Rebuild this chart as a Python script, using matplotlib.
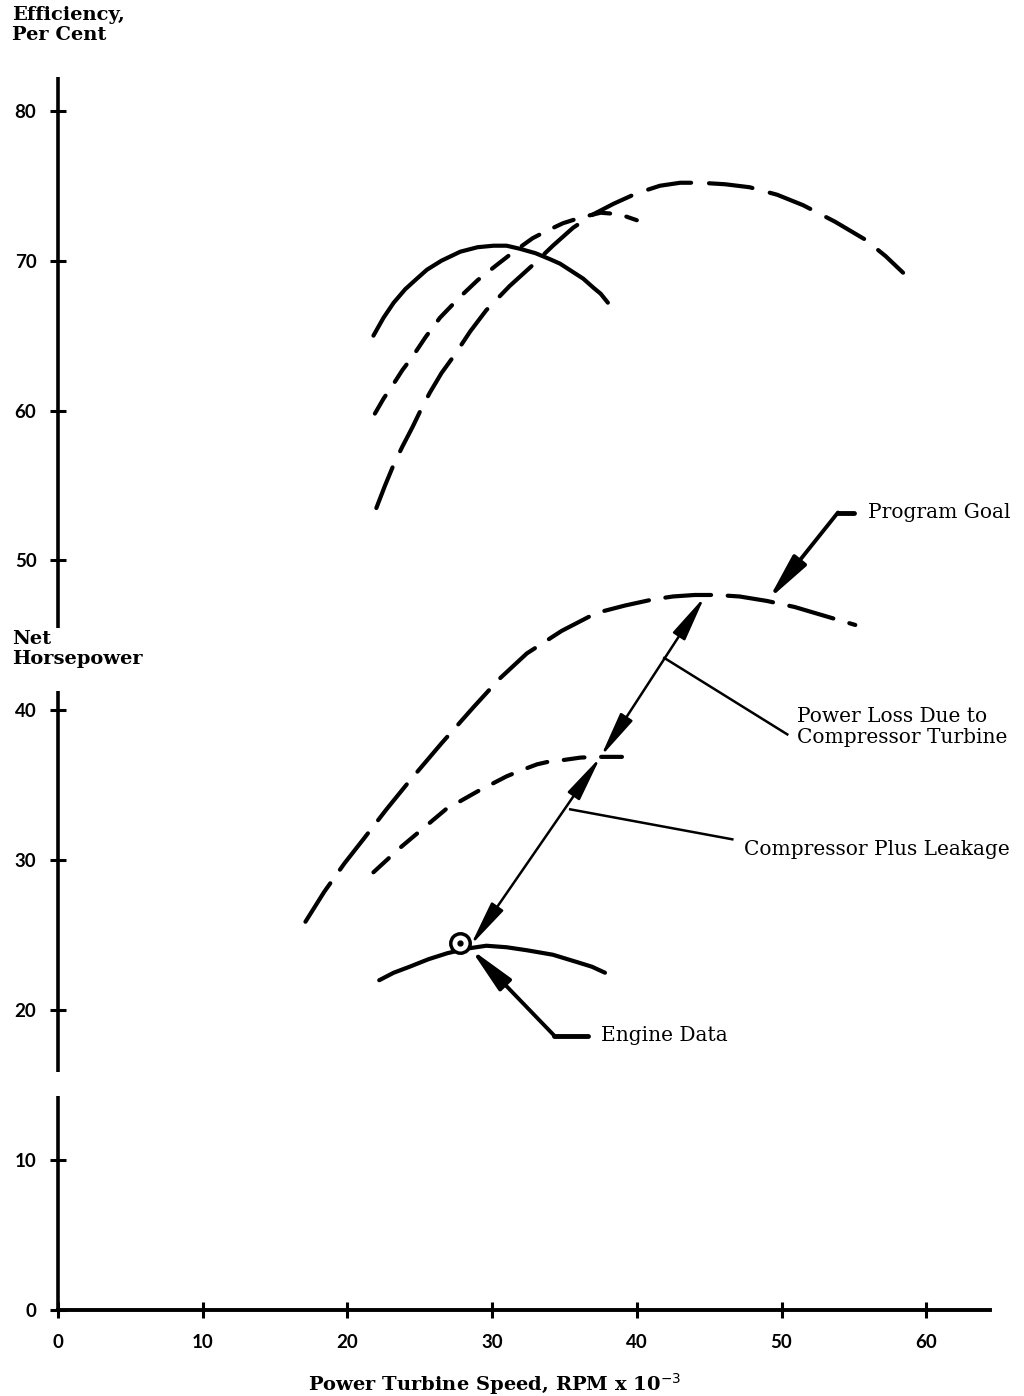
import matplotlib
matplotlib.use("Agg")
from matplotlib import pyplot as plt

# efficiency, per cent (upper family of curves)
eff_solid_x = [21.8, 22.5, 23.2, 24.0, 24.8, 25.5, 26.5, 27.8, 29.0, 30.1,
               31.0, 31.9, 33.0, 34.0, 34.7, 35.5, 36.3, 37.0, 37.5, 38.0]
eff_solid_y = [65.0, 66.2, 67.2, 68.1, 68.8, 69.4, 70.0, 70.6, 70.9, 71.0,
               71.0, 70.8, 70.5, 70.1, 69.8, 69.3, 68.8, 68.2, 67.8, 67.2]

eff_short_x = [21.9, 22.5, 23.2, 23.8, 24.5, 25.4, 26.4, 27.1, 27.8, 29.0,
               30.3, 31.5, 32.8, 33.8, 34.9, 36.2, 37.5, 38.8, 40.0]
eff_short_y = [59.8, 60.8, 61.8, 62.7, 63.6, 64.9, 66.2, 66.9, 67.6, 68.7,
               69.7, 70.6, 71.5, 72.0, 72.5, 72.9, 73.2, 73.1, 72.7]

eff_long_x = [22.0, 22.6, 23.2, 23.8, 24.5, 25.1, 25.7, 26.5, 27.4, 28.5,
              29.6, 31.2, 32.8, 34.2, 35.6, 37.0, 38.4, 40.0, 41.6, 43.0,
              44.4, 46.1, 47.8, 49.7, 51.5, 53.7, 55.8, 57.2, 58.4]
eff_long_y = [53.5, 55.0, 56.4, 57.6, 58.9, 60.1, 61.2, 62.5, 63.7, 65.3,
              66.7, 68.3, 69.7, 71.0, 72.2, 73.1, 73.8, 74.5, 75.0, 75.2,
              75.2, 75.1, 74.9, 74.4, 73.7, 72.6, 71.4, 70.3, 69.2]

# net horsepower (lower family)
goal_x = [17.1, 18.4, 19.8, 21.1, 22.7, 24.3, 26.5, 28.7, 30.5, 32.4, 34.8,
          37.2, 39.2, 41.1, 42.5, 44.0, 45.5, 47.1, 49.0, 50.9, 53.0, 55.1]
goal_y = [25.9, 27.9, 29.8, 31.4, 33.4, 35.3, 37.8, 40.2, 42.1, 43.8, 45.3,
          46.5, 47.0, 47.4, 47.6, 47.7, 47.7, 47.6, 47.3, 46.9, 46.3, 45.7]

leak_x = [21.8, 22.7, 23.6, 25.2, 26.8, 27.9, 29.0, 30.0, 31.0, 32.0,
          33.1, 34.0, 35.0, 36.1, 37.2, 39.0]
leak_y = [29.2, 30.0, 30.8, 32.1, 33.4, 34.0, 34.6, 35.1, 35.6, 36.0,
          36.4, 36.6, 36.7, 36.85, 36.9, 36.9]

engine_x = [22.2, 23.2, 24.3, 25.6, 26.9, 28.2, 29.6, 31.0, 32.4, 34.2, 35.9, 36.9, 37.8]
engine_y = [22.0, 22.5, 22.9, 23.4, 23.8, 24.1, 24.3, 24.2, 24.0, 23.7, 23.2, 22.9, 22.5]

engine_point = (27.8, 24.5)

x_ticks = [0, 10, 20, 30, 40, 50, 60]
y_ticks = [0, 10, 20, 30, 40, 50, 60, 70, 80]

serif = "DejaVu Serif"
sans = "Lato"

fig = plt.figure(figsize=(10.24, 13.96), dpi=100)
ax = fig.add_axes([58 / 1024, 86 / 1396, 932 / 1024, 1233 / 1396])
ax.set_xlim(0, 932 / 14.47)
ax.set_ylim(0, 1233 / 14.99)

lw = 3.0
short_dash = (0, (5.0, 4.0))
long_dash = (0, (10.5, 4.3))
ax.plot(eff_solid_x, eff_solid_y, color="black", lw=lw, solid_capstyle="round")
ax.plot(eff_short_x, eff_short_y, color="black", lw=lw,
        linestyle=short_dash, dash_capstyle="round")
ax.plot(eff_long_x, eff_long_y, color="black", lw=lw,
        linestyle=long_dash, dash_capstyle="round")

ax.plot(goal_x, goal_y, color="black", lw=lw,
        linestyle=(0, (11, 4.0)), dash_capstyle="round")
ax.plot(leak_x, leak_y, color="black", lw=lw,
        linestyle=short_dash, dash_capstyle="round")
ax.plot(engine_x, engine_y, color="black", lw=lw, solid_capstyle="round")

# engine data point
ax.plot(*engine_point, marker="o", markersize=14, markerfacecolor="white",
        markeredgecolor="black", markeredgewidth=2.5, zorder=5)
ax.plot(*engine_point, marker="o", markersize=3.5, color="black", zorder=6)

# double arrows between the curves
arrow2 = dict(arrowstyle="<|-|>,head_length=1.4,head_width=0.22",
              color="black", lw=1.8, mutation_scale=20, shrinkA=0, shrinkB=0)
ax.annotate("", xy=(44.7, 47.6), xytext=(37.5, 36.9), arrowprops=arrow2)
ax.annotate("", xy=(28.5, 24.3), xytext=(37.5, 36.9), arrowprops=arrow2)

# leader lines and labels
lead = dict(color="black", lw=1.8)
ax.plot([41.9, 50.4], [43.5, 38.4], **lead)
ax.plot([35.4, 46.6], [33.4, 31.4], **lead)

arrow1 = dict(arrowstyle="-|>,head_length=1.4,head_width=0.25",
              color="black", lw=2.8, mutation_scale=20, shrinkA=0, shrinkB=0)
ax.plot([53.9, 55.0], [53.2, 53.2], color="black", lw=3.5, solid_capstyle="round")
ax.annotate("", xy=(49.1, 47.4), xytext=(53.9, 53.2), arrowprops=arrow1)
ax.plot([34.3, 36.6], [18.3, 18.3], color="black", lw=3.5, solid_capstyle="round")
ax.annotate("", xy=(28.5, 24.1), xytext=(34.3, 18.3), arrowprops=arrow1)

txt = dict(family=serif, fontsize=14.5, va="center", ha="left")
ax.text(56.0, 53.2, "Program Goal", **txt)
ax.text(51.1, 38.9, "Power Loss Due to\nCompressor Turbine", linespacing=1.1, **txt)
ax.text(47.4, 30.7, "Compressor Plus Leakage", **txt)
ax.text(37.5, 18.3, "Engine Data", **txt)

# y axis drawn in pieces (gaps for the "Net Horsepower" label and a break)
for y0, y1 in [(0, 14.3), (15.9, 41.3), (45.5, 82.25)]:
    ax.plot([0, 0], [y0, y1], color="black", lw=2.6, clip_on=False,
            solid_capstyle="butt")

for side in ["left", "top", "right"]:
    ax.spines[side].set_visible(False)
ax.spines["bottom"].set_linewidth(2.8)

ax.set_xticks(x_ticks)
ax.set_yticks(y_ticks)
ax.tick_params(direction="inout", length=11, width=2.2, labelsize=13.5)
ax.tick_params(axis="y", pad=10)
ax.tick_params(axis="x", pad=12)
for lab in ax.get_xticklabels() + ax.get_yticklabels():
    lab.set_family(sans)
    lab.set_fontweight("bold")

ax.text(30.2, -0.060, r"Power Turbine Speed, RPM x 10$^{-3}$",
        transform=ax.get_xaxis_transform(), ha="center", va="center",
        family=serif, fontweight="bold", fontsize=14)

fig.text(12 / 1024, 1 - 6 / 1396, "Efficiency,\nPer Cent", ha="left", va="top",
         family=serif, fontweight="bold", fontsize=14, linespacing=1.15)
fig.text(12 / 1024, 1 - 630 / 1396, "Net\nHorsepower", ha="left", va="top",
         family=serif, fontweight="bold", fontsize=14, linespacing=1.15)

fig.savefig("out.png", dpi=100, facecolor="white")
